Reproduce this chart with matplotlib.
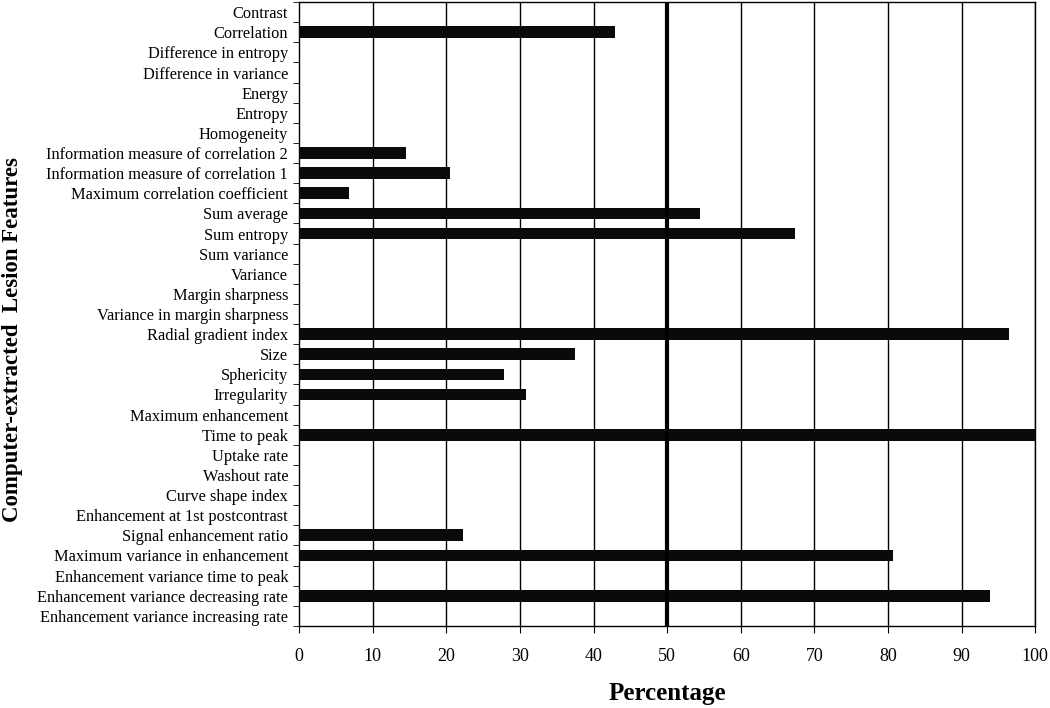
import numpy as np
import matplotlib.pyplot as plt

plt.rcParams['font.family'] = ['Liberation Serif', 'DejaVu Serif']

features = ['Contrast', 'Correlation', 'Difference in entropy', 'Difference in variance',
            'Energy', 'Entropy', 'Homogeneity', 'Information measure of correlation 2',
            'Information measure of correlation 1', 'Maximum correlation coefficient',
            'Sum average', 'Sum entropy', 'Sum variance', 'Variance', 'Margin sharpness',
            'Variance in margin sharpness', 'Radial gradient index', 'Size', 'Sphericity',
            'Irregularity', 'Maximum enhancement', 'Time to peak', 'Uptake rate',
            'Washout rate', 'Curve shape index', 'Enhancement at 1st postcontrast',
            'Signal enhancement ratio', 'Maximum variance in enhancement',
            'Enhancement variance time to peak', 'Enhancement variance decreasing rate',
            'Enhancement variance increasing rate']
percent = [0, 42.9, 0, 0, 0, 0, 0, 14.5, 20.5, 6.8, 54.4, 67.4, 0, 0, 0, 0,
           96.4, 37.4, 27.8, 30.8, 0, 100, 0, 0, 0, 0, 22.3, 80.7, 0, 93.9, 0]

fig = plt.figure(figsize=(10.5, 7.08), dpi=100)
ax = fig.add_axes([0.285, 0.116, 0.701, 0.881])

y = np.arange(len(features))
ax.barh(y, percent, height=0.58, color='#0a0a0a', linewidth=0, zorder=3)

ax.set_xlim(0, 100)
ax.set_ylim(len(features) - 0.5, -0.5)
ax.set_xticks(np.arange(0, 101, 10))
for v in range(10, 101, 10):
    ax.axvline(v, color='black', lw=3 if v == 50 else 1, zorder=4 if v == 50 else 1)

ax.set_yticks(y)
ax.set_yticklabels(features, fontsize=11.8)
ax.tick_params(axis='y', length=0, pad=8)
ax.set_yticks(np.arange(-0.5, len(features)), minor=True)
ax.tick_params(axis='y', which='minor', length=4, direction='out')
ax.tick_params(axis='x', labelsize=13, length=5, pad=11)

ax.set_xlabel('Percentage', fontsize=18, fontweight='bold', labelpad=12)
fig.text(0.0115, 0.521, 'Computer-extracted  Lesion Features', fontsize=16.5,
         fontweight='bold', rotation=90, ha='center', va='center')

for s in ax.spines.values():
    s.set_linewidth(1)

fig.savefig('out.png', dpi=100)
